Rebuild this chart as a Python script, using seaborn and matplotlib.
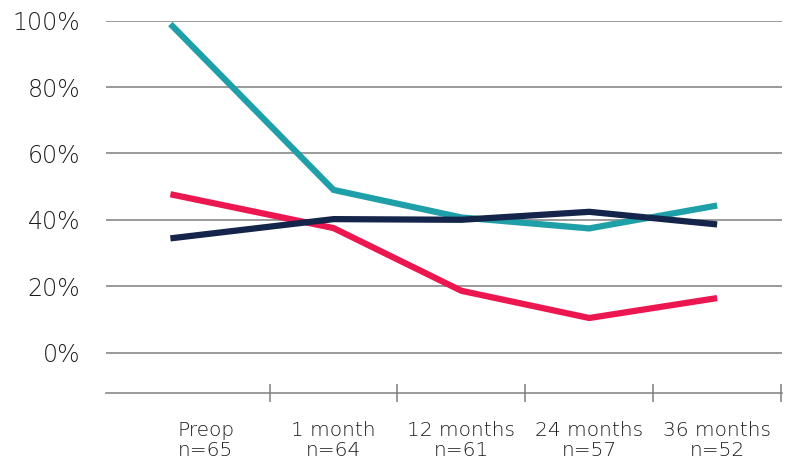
#!/usr/bin/env python3

import numpy as np
import pandas as pd
import seaborn as sns
import matplotlib.pyplot as plt
from matplotlib.ticker import FixedLocator

# Timepoints and group sizes
timepoints = ["Preop", "1 month", "12 months", "24 months", "36 months"]
sample_sizes = [65, 64, 61, 57, 52]

# Percent of patients per timepoint, one list per series
teal_values = [99, 49, 40.7, 37.4, 44.3]
pink_values = [47.7, 37.5, 18.6, 10.4, 16.4]
navy_values = [34.4, 40.2, 40.0, 42.4, 38.6]

sns.set_theme(style="white")
plt.rcParams["font.family"] = ["DejaVu Sans"]
plt.rcParams["font.weight"] = "light"

TEXT = "#1c1c1c"
GRID = "#7f7f7f"
palette = {"teal": "#1fa0a8", "pink": "#ec1650", "navy": "#14244a"}

# the preop point sits left of its label in the original
preop_shift = -0.276


def main():
    x = np.arange(len(timepoints), dtype=float)
    x[0] += preop_shift

    rows = []
    for name, vals in [("teal", teal_values), ("pink", pink_values), ("navy", navy_values)]:
        for xi, v in zip(x, vals):
            rows.append({"x": xi, "value": v, "series": name})
    df = pd.DataFrame(rows)

    fig = plt.figure(figsize=(7.92, 4.63), dpi=100)
    ax = fig.add_axes([0.1338, 0.1505, 0.8532, 0.8048])

    sns.lineplot(data=df, x="x", y="value", hue="series", palette=palette,
                 hue_order=["teal", "pink", "navy"], linewidth=4.5,
                 legend=False, ax=ax, zorder=3)
    for line in ax.lines:
        line.set_solid_capstyle("butt")
        line.set_solid_joinstyle("miter")

    ax.set_xlim(-0.78, 4.505)
    ax.set_ylim(-12.3, 100)

    # y axis: gridlines with percent labels
    ax.set_yticks(range(0, 101, 20))
    ax.set_yticklabels([f"{v}%" for v in range(0, 101, 20)], fontweight="light")
    ax.yaxis.grid(True, color=GRID, linewidth=1.1)
    ax.xaxis.grid(False)
    ax.tick_params(axis="y", length=0, pad=18.5, labelsize=17, labelcolor=TEXT)

    # x axis: labels at categories, ticks between them
    ax.set_xticks(range(len(timepoints)))
    ax.set_xticklabels([f"{t}\nn={n}" for t, n in zip(timepoints, sample_sizes)],
                       linespacing=1.05, fontweight="light")
    ax.xaxis.set_minor_locator(FixedLocator([0.5, 1.5, 2.5, 3.5, 4.5]))
    ax.tick_params(axis="x", which="major", length=0, pad=20, labelsize=14.5,
                   labelcolor=TEXT)
    ax.tick_params(axis="x", which="minor", direction="inout", length=13.5,
                   width=1.1, color=GRID, bottom=True)

    ax.set_xlabel("")
    ax.set_ylabel("")
    for side in ["top", "right", "left"]:
        ax.spines[side].set_visible(False)
    ax.spines["bottom"].set_color(GRID)
    ax.spines["bottom"].set_linewidth(1.1)

    fig.savefig("out.png", dpi=100, facecolor="white")
    plt.close(fig)


if __name__ == "__main__":
    main()
